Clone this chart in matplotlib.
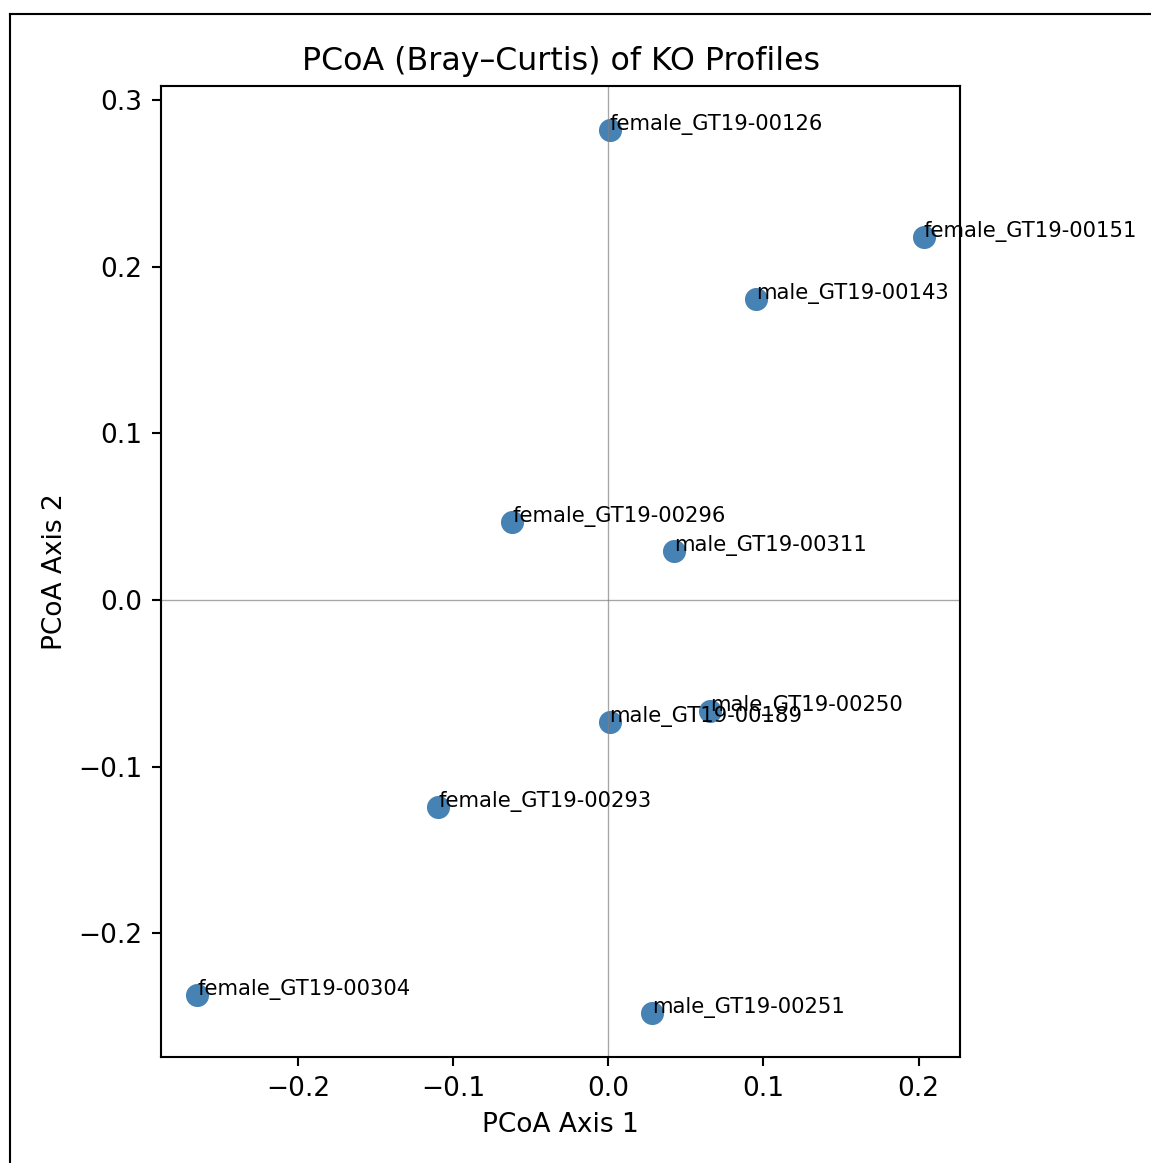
import numpy as np
import matplotlib.pyplot as plt
from matplotlib.lines import Line2D

# Sample names and PCoA coordinates
samples = [
    "female_GT19-00126", "female_GT19-00151", "male_GT19-00143",
    "female_GT19-00296", "male_GT19-00311", "male_GT19-00250",
    "male_GT19-00189", "female_GT19-00293", "female_GT19-00304",
    "male_GT19-00251",
]
axis1 = [0.0008, 0.2033, 0.0952, -0.0620, 0.0423, 0.0656,
         0.0008, -0.1095, -0.2649, 0.0281]
axis2 = [0.2820, 0.2178, 0.1806, 0.0468, 0.0294, -0.0666,
         -0.0732, -0.1242, -0.2370, -0.2478]

fig = plt.figure(figsize=(1151 / 190, 1163 / 190), dpi=190)
ax = fig.add_axes([0.1399, 0.0911, 0.6942, 0.8350])

ax.scatter(axis1, axis2, s=60, color="steelblue")
for name, x, y in zip(samples, axis1, axis2):
    ax.text(x, y, name, fontsize=8)

ax.axhline(0, color="gray", linewidth=0.5, alpha=0.7)
ax.axvline(0, color="gray", linewidth=0.5, alpha=0.7)

ax.set_xlabel("PCoA Axis 1")
ax.set_ylabel("PCoA Axis 2")
ax.set_title("PCoA (Bray–Curtis) of KO Profiles")

# screenshot frame
fig.add_artist(Line2D([10 / 1151, 10 / 1151], [0, 1 - 14 / 1163],
                      transform=fig.transFigure, color="black", linewidth=0.8))
fig.add_artist(Line2D([10 / 1151, 1], [1 - 14 / 1163, 1 - 14 / 1163],
                      transform=fig.transFigure, color="black", linewidth=0.8))

fig.savefig("out.png", dpi=190)
